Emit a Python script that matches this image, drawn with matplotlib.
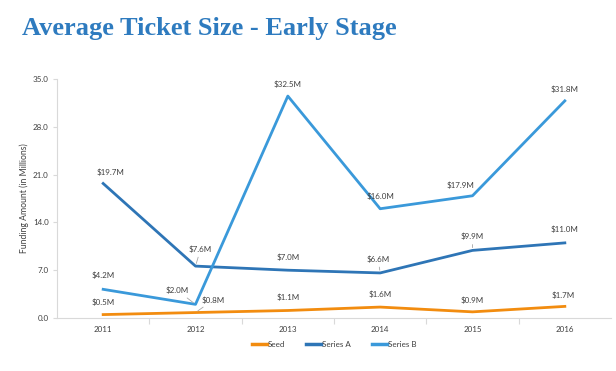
import matplotlib
matplotlib.use("Agg")
import matplotlib.pyplot as plt
from matplotlib.ticker import MultipleLocator, FixedLocator

years = ["2011", "2012", "2013", "2014", "2015", "2016"]
seed = [0.5, 0.8, 1.1, 1.6, 0.9, 1.7]
series_a = [19.7, 7.6, 7.0, 6.6, 9.9, 11.0]
series_b = [4.2, 2.0, 32.5, 16.0, 17.9, 31.8]
series_names = ["Seed", "Series A", "Series B"]

colors = ["#F28C0F", "#2E75B6", "#3A99DA"]

# label offsets in pixels (dx, dy) and whether a leader line is drawn
offsets = {
    "Seed": [(0, 9, False), (18, 9, True), (0, 9, False), (0, 9, False), (0, 8, False), (-2, 7, False)],
    "Series A": [(7, 7, False), (5, 13, True), (0, 9, False), (-2, 10, True), (0, 10, True), (0, 10, False)],
    "Series B": [(0, 10, False), (-18, 10, True), (0, 8, False), (0, 9, False), (-12, 7, False), (0, 8, False)],
}

plt.rcParams['font.family'] = ['Lato', 'DejaVu Sans']

fig = plt.figure(figsize=(6.16, 3.71), dpi=100)
ax = fig.add_axes([57 / 616, 1 - 318 / 371, (611 - 57) / 616, (318 - 79) / 371])

x = list(range(len(years)))
for name, vals, col in zip(series_names, [seed, series_a, series_b], colors):
    ax.plot(x, vals, color=col, lw=2.0, label=name, solid_joinstyle='round', zorder=3)
    for xi, v, (dx, dy, lead) in zip(x, vals, offsets[name]):
        kw = {}
        if lead:
            kw['arrowprops'] = dict(arrowstyle='-', color='#A6A6A6', lw=0.6, shrinkA=1, shrinkB=2)
        ax.annotate(f"${v:.1f}M", (xi, v), xytext=(dx, dy), textcoords='offset pixels',
                    ha='center', va='bottom', fontsize=5.8, color='#404040', **kw)

ax.set_xlim(-0.5, len(years) - 0.5)
ax.set_ylim(0, 35)
ax.yaxis.set_major_locator(MultipleLocator(7))
ax.yaxis.set_major_formatter(matplotlib.ticker.FormatStrFormatter('%.1f'))
ax.set_xticks(x)
ax.set_xticklabels(years)
ax.xaxis.set_minor_locator(FixedLocator([i + 0.5 for i in range(len(years) - 1)]))
ax.tick_params(axis='x', which='major', length=0, labelsize=5.8, labelcolor='#404040', pad=6)
ax.tick_params(axis='x', which='minor', length=4, color='#D9D9D9', width=0.8)
ax.tick_params(axis='y', length=3, color='#D9D9D9', width=0.8, labelsize=5.8, labelcolor='#404040', pad=3)

for s in ['top', 'right']:
    ax.spines[s].set_visible(False)
for s in ['left', 'bottom']:
    ax.spines[s].set_color('#D9D9D9')
    ax.spines[s].set_linewidth(0.8)

ax.set_ylabel("Funding Amount (in Millions)", fontsize=6.2, color='#404040', labelpad=3)

leg = ax.legend(loc='upper center', bbox_to_anchor=(0.5, -0.065), ncol=3, frameon=False,
                fontsize=5.8, handlelength=1.9, handletextpad=0.1, columnspacing=2.6)
for t in leg.get_texts():
    t.set_color('#404040')
for h in leg.get_lines():
    h.set_linewidth(2.5)

fig.text(22 / 616, 1 - 35 / 371, "Average Ticket Size - Early Stage", fontsize=19,
         fontweight='bold', family='Liberation Serif', color='#2E7BBF', va='baseline', ha='left')

fig.savefig("out.png", dpi=100)
